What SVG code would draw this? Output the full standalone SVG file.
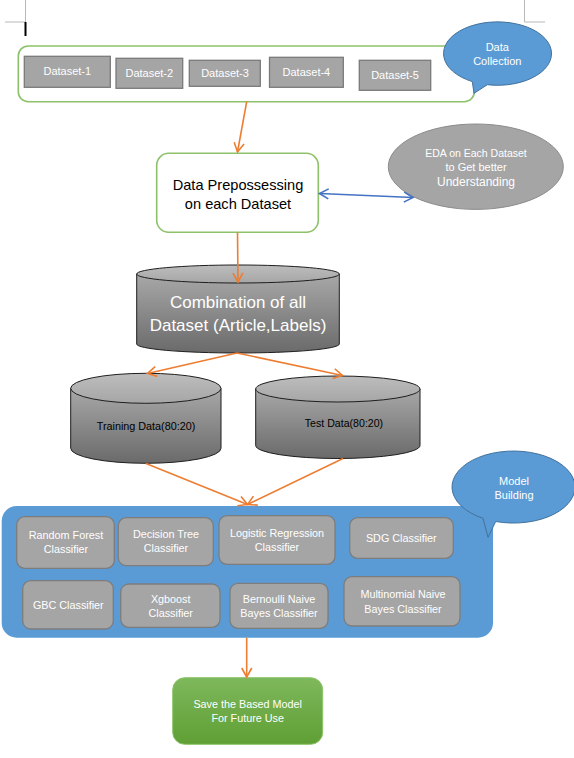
<svg xmlns="http://www.w3.org/2000/svg" width="574" height="758" viewBox="0 0 574 758">
<defs>
<linearGradient id="cylBody" x1="0" y1="0" x2="0" y2="1">
<stop offset="0" stop-color="#a8a8a8"/>
<stop offset="1" stop-color="#6a6a6a"/>
</linearGradient>
<linearGradient id="cylTop" x1="0" y1="0" x2="0" y2="1">
<stop offset="0" stop-color="#bdbdbd"/>
<stop offset="1" stop-color="#a6a6a6"/>
</linearGradient>
<linearGradient id="greenGrad" x1="0" y1="0" x2="0" y2="1">
<stop offset="0" stop-color="#7eb85c"/>
<stop offset="1" stop-color="#5f9f34"/>
</linearGradient>
<marker id="arrO" markerUnits="userSpaceOnUse" markerWidth="12" markerHeight="12" viewBox="0 0 12 12" refX="10" refY="6" orient="auto-start-reverse">
<path d="M1,1 L10,6 L1,11" fill="none" stroke="#ed7d31" stroke-width="1.6"/>
</marker>
<marker id="arrB" markerUnits="userSpaceOnUse" markerWidth="12" markerHeight="12" viewBox="0 0 12 12" refX="10" refY="6" orient="auto-start-reverse">
<path d="M1,1 L10,6 L1,11" fill="none" stroke="#4472c4" stroke-width="1.6"/>
</marker>
</defs>
<style>
text { font-family: "Liberation Sans", Arial, sans-serif; text-anchor: middle; }
.w { fill: #ffffff; }
.k { fill: #000000; }
.ds { fill: #a5a5a5; stroke: #7a7a7a; stroke-width: 1.3; }
.cls { fill: #a5a5a5; stroke: #7d7d7d; stroke-width: 1.3; }
.callout { fill: #5b9bd5; stroke: #41719c; stroke-width: 1; }
.cyl { stroke: #1e1e1e; stroke-width: 1; }
.o { fill: none; stroke: #ed7d31; stroke-width: 1.6; }
.b { fill: none; stroke: #4472c4; stroke-width: 1.6; }
.crop { stroke: #b8b8b8; stroke-width: 1; fill: none; }
</style>

<g id="page-marks">
<path class="crop" d="M25.5,0 V22 H5"/>
<path class="crop" d="M524.5,0 V22 H545"/>
<rect x="24.5" y="22" width="2" height="14" fill="#000"/>
</g>

<g id="data-collection-group">
<rect x="18.3" y="46" width="456" height="55.7" rx="10" fill="#ffffff" stroke="#8dc26a" stroke-width="1.6"/>
</g>
<g id="dataset-1"><rect class="ds" x="24.3" y="56.3" width="86" height="31"/><text class="w" x="67.3" y="74.9" font-size="11">Dataset-1</text></g>
<g id="dataset-2"><rect class="ds" x="116" y="58.3" width="66.7" height="30"/><text class="w" x="149.3" y="76.9" font-size="11">Dataset-2</text></g>
<g id="dataset-3"><rect class="ds" x="189.3" y="60.3" width="71" height="26"/><text class="w" x="225" y="76.9" font-size="11">Dataset-3</text></g>
<g id="dataset-4"><rect class="ds" x="269.5" y="57.3" width="73.8" height="30"/><text class="w" x="306.4" y="75.9" font-size="11">Dataset-4</text></g>
<g id="dataset-5"><rect class="ds" x="359.3" y="60.3" width="71.4" height="30"/><text class="w" x="395" y="78.9" font-size="11">Dataset-5</text></g>

<g id="data-collection-callout">
<path class="callout" d="M472.3,81.6 L474,93.3 L487.3,84.7 A54,31.7 0 1 0 472.3,81.6 Z"/>
<text class="w" x="497.3" y="51.2" font-size="11">Data</text>
<text class="w" x="497.3" y="64.9" font-size="11">Collection</text>
</g>

<g id="data-prepossessing">
<rect x="156.7" y="153.3" width="161.6" height="79" rx="12" fill="#ffffff" stroke="#8dc26a" stroke-width="1.6"/>
<text class="k" x="238" y="189.5" font-size="14.6">Data Prepossessing</text>
<text class="k" x="238" y="209" font-size="14.6">on each Dataset</text>
</g>

<g id="eda">
<ellipse cx="475.8" cy="166.7" rx="87.5" ry="42.7" fill="#a5a5a5" stroke="#8c8c8c" stroke-width="1"/>
<text class="w" x="476" y="157" font-size="10.5">EDA on Each Dataset</text>
<text class="w" x="476" y="171" font-size="11">to Get better</text>
<text class="w" x="476" y="185.9" font-size="12">Understanding</text>
</g>

<g id="combination">
<path class="cyl" fill="url(#cylBody)" d="M136.7,274 L136.7,344 A101.3,9 0 0 0 339.3,344 L339.3,274 Z"/>
<ellipse class="cyl" fill="url(#cylTop)" cx="238" cy="274" rx="101.3" ry="9"/>
<text class="w" x="238" y="308.3" font-size="17">Combination of all</text>
<text class="w" x="238" y="331" font-size="17">Dataset (Article,Labels)</text>
</g>

<g id="training-data">
<path class="cyl" fill="url(#cylBody)" d="M70.7,388.3 L70.7,448.3 A75.15,15 0 0 0 221,448.3 L221,388.3 Z"/>
<ellipse class="cyl" fill="url(#cylTop)" cx="145.85" cy="388.3" rx="75.15" ry="15"/>
<text class="k" x="146" y="429.8" font-size="10.8">Training Data(80:20)</text>
</g>

<g id="test-data">
<path class="cyl" fill="url(#cylBody)" d="M255.7,389 L255.7,445.5 A82.15,13 0 0 0 420,445.5 L420,389 Z"/>
<ellipse class="cyl" fill="url(#cylTop)" cx="337.85" cy="389" rx="82.15" ry="13"/>
<text class="k" x="344" y="427" font-size="10.6">Test Data(80:20)</text>
</g>

<g id="model-building-group">
<rect x="1.7" y="506" width="491.3" height="131.7" rx="15" fill="#5b9bd5"/>
</g>
<g id="random-forest"><rect class="cls" x="16.7" y="516.7" width="97.6" height="51.6" rx="8"/><text class="w" x="66" y="538.9" font-size="10.8">Random Forest</text><text class="w" x="66" y="553.2" font-size="10.8">Classifier</text></g>
<g id="decision-tree"><rect class="cls" x="118.3" y="517.7" width="95" height="48" rx="8"/><text class="w" x="166" y="537.9" font-size="10.8">Decision Tree</text><text class="w" x="166" y="552.2" font-size="10.8">Classifier</text></g>
<g id="logistic-regression"><rect class="cls" x="219" y="515.7" width="116" height="48.6" rx="8"/><text class="w" x="277" y="536.6" font-size="10.8">Logistic Regression</text><text class="w" x="277" y="550.6" font-size="10.8">Classifier</text></g>
<g id="sdg"><rect class="cls" x="349.7" y="517.7" width="103.6" height="40.6" rx="8"/><text class="w" x="401.3" y="541.6" font-size="10.8">SDG Classifier</text></g>
<g id="gbc"><rect class="cls" x="22.7" y="580.7" width="90.6" height="48.3" rx="8"/><text class="w" x="68.3" y="608.9" font-size="10.8">GBC Classifier</text></g>
<g id="xgboost"><rect class="cls" x="120.7" y="584" width="99.3" height="43.3" rx="8"/><text class="w" x="170.7" y="603.2" font-size="10.8">Xgboost</text><text class="w" x="170.7" y="617.2" font-size="10.8">Classifier</text></g>
<g id="bernoulli"><rect class="cls" x="230" y="583.3" width="98" height="45" rx="8"/><text class="w" x="279" y="603.2" font-size="10.8">Bernoulli Naive</text><text class="w" x="279" y="617.2" font-size="10.8">Bayes Classifier</text></g>
<g id="multinomial"><rect class="cls" x="344" y="576.7" width="116" height="49.3" rx="8"/><text class="w" x="403" y="597.9" font-size="10.8">Multinomial Naive</text><text class="w" x="403" y="612.9" font-size="10.8">Bayes Classifier</text></g>

<g id="model-building-callout">
<path class="callout" d="M483,518.3 L488,537.3 L495.7,521.5 A61.5,36 0 1 0 483,518.3 Z"/>
<text class="w" x="514" y="484.6" font-size="11">Model</text>
<text class="w" x="514" y="498.9" font-size="11">Building</text>
</g>

<g id="save-model">
<rect x="172.7" y="677.7" width="150" height="66.6" rx="12" fill="url(#greenGrad)" stroke="#8cc46a" stroke-width="1"/>
<text class="w" x="247.7" y="707.8" font-size="10.8">Save the Based Model</text>
<text class="w" x="247.7" y="722.1" font-size="10.8">For Future Use</text>
</g>

<g id="connectors">
<line class="o" x1="246.7" y1="101.7" x2="237.5" y2="152" marker-end="url(#arrO)"/>
<line class="b" x1="319.5" y1="193.5" x2="413" y2="197.5" marker-start="url(#arrB)" marker-end="url(#arrB)"/>
<line class="o" x1="237.5" y1="232.5" x2="238" y2="282" marker-end="url(#arrO)"/>
<line class="o" x1="237" y1="353" x2="147.5" y2="373.5" marker-end="url(#arrO)"/>
<line class="o" x1="237" y1="353" x2="342.5" y2="375.5" marker-end="url(#arrO)"/>
<line class="o" x1="146" y1="463.5" x2="247.5" y2="504.5" marker-end="url(#arrO)"/>
<line class="o" x1="343" y1="458.5" x2="247.5" y2="504.5" marker-end="url(#arrO)"/>
<line class="o" x1="246.7" y1="637.7" x2="246.7" y2="677" marker-end="url(#arrO)"/>
</g>
</svg>
